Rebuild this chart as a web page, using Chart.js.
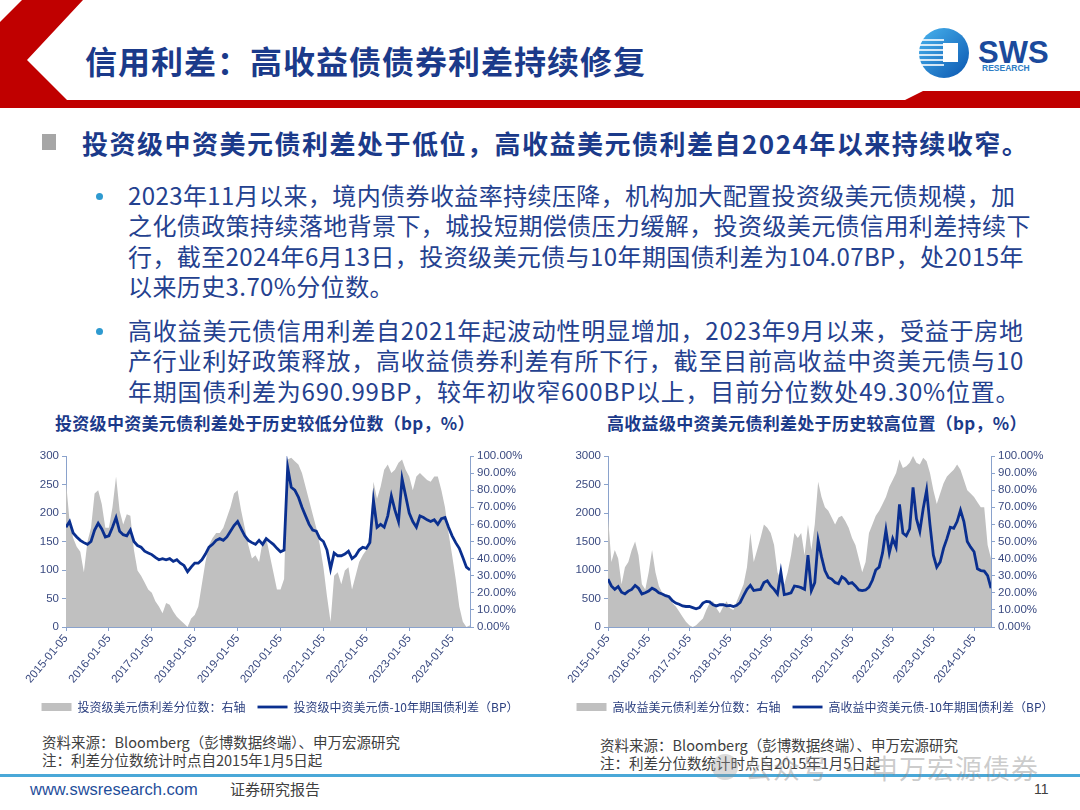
<!DOCTYPE html>
<html>
<head>
<meta charset="utf-8">
<script src="https://cdn.jsdelivr.net/npm/chart.js@4.4.1/dist/chart.umd.min.js"></script>
<style>
  html, body { margin: 0; padding: 0; background: #fff; }
  #page { position: relative; width: 1080px; height: 810px; overflow: hidden; background: #fff;
          font-family: "Noto Sans CJK SC", "Noto Sans", sans-serif; }
  .abs { position: absolute; white-space: nowrap; }
  .title { left: 85px; top: 38px; font-size: 32px; font-weight: 700; color: #1B3A8A; letter-spacing: 1px; line-height: 44px; }
  .lead { left: 82px; top: 126px; font-size: 26px; font-weight: 700; color: #1B3A8A; letter-spacing: 1.5px; line-height: 34px; }
  .lead-mark { left: 42px; top: 134px; width: 14px; height: 16px; background: #A6A6A6; }
  .para { left: 128px; font-size: 24px; color: #24418F; line-height: 30.3px; letter-spacing: 0.4px; }
  .dot { left: 96px; width: 7px; height: 7px; border-radius: 4px; background: #2E9AD0; }
  .ctitle { top: 410px; font-size: 17px; font-weight: 700; color: #1B3A8A; line-height: 26px; letter-spacing: 0.3px; }
  .src { font-size: 14.5px; color: #404040; line-height: 18px; }
  .chartbox { position: absolute; top: 446px; height: 277px; }
</style>
</head>
<body>
<div id="page">
  <svg class="abs" style="left:0;top:0" width="1080" height="112">
    <polygon points="22,0 83,0 27,60 67,100 905,100 923,91 1080,91 1080,108 0,108 0,22" fill="#C00000"/>
    <defs>
      <linearGradient id="lg" x1="0" y1="0" x2="1" y2="1">
        <stop offset="0" stop-color="#49B4EE"/>
        <stop offset="1" stop-color="#0A56B0"/>
      </linearGradient>
    </defs>
    <circle cx="944" cy="53" r="25" fill="url(#lg)"/>
    <g stroke="#fff" stroke-width="1.6">
      <line x1="922" y1="40" x2="944" y2="40"/>
      <line x1="920" y1="45" x2="944" y2="45"/>
      <line x1="919" y1="50" x2="944" y2="50"/>
      <line x1="919" y1="55" x2="944" y2="55"/>
      <line x1="920" y1="60" x2="944" y2="60"/>
      <line x1="922" y1="65" x2="944" y2="65"/>
    </g>
    <rect x="943" y="43" width="15" height="19" fill="#fff"/>
    <text x="978" y="63" font-family="Liberation Sans, sans-serif" font-weight="700" font-size="31" fill="#1B4A9C">SWS</text>
    <text x="982" y="71" font-family="Liberation Sans, sans-serif" font-weight="700" font-size="8.5" fill="#2D7CC4">RESEARCH</text>
  </svg>

  <div class="abs title">信用利差：高收益债债券利差持续修复</div>

  <div class="abs lead-mark"></div>
  <div class="abs lead">投资级中资美元债利差处于低位，高收益美元债利差自2024年以来持续收窄。</div>

  <div class="abs dot" style="top:193px"></div>
  <div class="abs para" style="top:180px">
    <div>2023年11月以来，境内债券收益率持续压降，机构加大配置投资级美元债规模，加</div>
    <div>之化债政策持续落地背景下，城投短期偿债压力缓解，投资级美元债信用利差持续下</div>
    <div>行，截至2024年6月13日，投资级美元债与10年期国债利差为104.07BP，处2015年</div>
    <div>以来历史3.70%分位数。</div>
  </div>

  <div class="abs dot" style="top:328px"></div>
  <div class="abs para" style="top:315px;letter-spacing:0.8px">
    <div>高收益美元债信用利差自2021年起波动性明显增加，2023年9月以来，受益于房地</div>
    <div>产行业利好政策释放，高收益债券利差有所下行，截至目前高收益中资美元债与10</div>
    <div>年期国债利差为690.99BP，较年初收窄600BP以上，目前分位数处49.30%位置。</div>
  </div>

  <div class="abs ctitle" style="left:55px">投资级中资美元债利差处于历史较低分位数（bp，%）</div>
  <div class="abs ctitle" style="left:607px">高收益级中资美元债利差处于历史较高位置（bp，%）</div>

  <div class="chartbox" style="left:20px;width:520px"><canvas id="chartIG"></canvas></div>
  <div class="chartbox" style="left:560px;width:510px"><canvas id="chartHY"></canvas></div>

  <div class="abs src" style="left:42px;top:733px">资料来源：Bloomberg（彭博数据终端）、申万宏源研究<br>注：利差分位数统计时点自2015年1月5日起</div>
  <div class="abs src" style="left:600px;top:736px">资料来源：Bloomberg（彭博数据终端）、申万宏源研究<br>注：利差分位数统计时点自2015年1月5日起</div>

  <div class="abs" style="left:0;top:774px;width:1080px;height:3px;background:#4AA8D8"></div>
  <div class="abs" style="left:30px;top:778px;font-family:'Liberation Sans',sans-serif;font-size:16.5px;color:#1F4E9A;line-height:22px">www.swsresearch.com</div>
  <div class="abs" style="left:230px;top:778px;font-size:15px;color:#404040;line-height:22px">证券研究报告</div>
  <div class="abs" style="left:1034px;top:779px;font-family:'Liberation Sans',sans-serif;font-size:14px;color:#404040;line-height:20px">11</div>

  <div class="abs" style="left:712px;top:754px;width:26px;height:26px;border-radius:13px;background:rgba(150,150,150,0.35)"></div>
  <div class="abs" style="left:745px;top:750px;font-size:27px;color:rgba(140,140,140,0.45);line-height:36px;letter-spacing:1px">公众号 · 申万宏源债券</div>
</div>

<script>
// x = month index from 2015-01 (monthly readings), last point 2024-06-13
const yearTicks = ['2015-01-05', '2016-01-05', '2017-01-05', '2018-01-05', '2019-01-05',
                   '2020-01-05', '2021-01-05', '2022-01-05', '2023-01-05', '2024-01-05'];

// 投资级中资美元债-10年期国债利差（BP）
const igSpread = [
  175, 185, 165, 158, 152, 148, 145, 150, 170, 182, 172, 158,
  160, 175, 192, 168, 162, 160, 170, 150, 143, 140, 133, 130,
  127, 122, 118, 120, 118, 120, 115, 118, 112, 108, 97, 105,
  112, 112, 118, 128, 140, 145, 152, 155, 152, 158, 168, 178,
  185, 172, 160, 152, 148, 145, 152, 145, 155, 150, 145, 138,
  132, 135, 280, 245, 240, 228, 210, 195, 180, 170, 168, 155,
  150, 135, 102, 130, 125, 125, 128, 133, 120, 125, 135, 140,
  138, 148, 222, 175, 180, 175, 195, 230, 205, 185, 260, 230,
  200, 185, 175, 195, 192, 188, 185, 188, 180, 190, 192, 175,
  160, 148, 138, 122, 105, 100
];
// 投资级美元债利差分位数（%，右轴）
const igPct = [
  85, 62, 52, 47, 44, 32, 50, 58, 78, 80, 72, 58,
  58, 70, 88, 68, 60, 66, 65, 45, 33, 30, 26, 22,
  20, 15, 12, 8, 14, 13, 9, 6, 4, 2, 0, 5,
  7, 12, 25, 38, 48, 52, 55, 55, 58, 64, 70, 78,
  80, 68, 58, 48, 40, 42, 38, 50, 52, 42, 32, 22,
  22, 28, 98, 99, 97, 95, 90, 82, 74, 66, 58, 48,
  35, 18, 3, 30, 32, 25, 33, 35, 22, 30, 38, 42,
  45, 55, 85, 75, 82, 92, 95, 90, 92, 96, 98, 92,
  88, 80, 88, 90, 88, 86, 85, 88, 88, 80, 70, 55,
  42, 28, 12, 3, 0, 1
];

// 高收益中资美元债-10年期国债利差（BP）
const hySpread = [
  840, 720, 660, 710, 610, 580, 630, 660, 730, 680, 580, 600,
  630, 680, 650, 600, 580, 550, 530, 460, 420, 400, 370, 360,
  360, 340, 320, 340, 420, 450, 440, 390, 370, 390, 390, 370,
  380, 360, 380, 430, 550, 660, 730, 640, 650, 660, 780, 810,
  720, 660, 580, 960, 570, 580, 600, 720, 710, 690, 660, 1260,
  640, 780, 1520, 1230, 990, 870, 840, 780, 760, 880, 840, 760,
  780, 720, 650, 640, 650, 700, 820, 1000, 1050, 1300, 1700, 1300,
  1550, 1400, 2150, 1650, 1600, 1720, 2450, 1900, 1680, 2080, 2400, 1790,
  1260, 1050, 1140, 1380, 1550, 1750, 1730, 1850, 2050, 1850, 1500, 1400,
  1320, 1020, 990, 980, 900, 680
];
// 高收益美元债利差分位数（%，右轴）
const hyPct = [
  65, 38, 45, 40, 25, 35, 38, 45, 50, 42, 25, 22,
  32, 45, 32, 24, 20, 18, 17, 14, 12, 9, 6, 3,
  1, 0, 1, 3, 5, 10, 14, 15, 11, 8, 12, 15,
  11, 10, 15, 20, 25, 35, 55, 38, 45, 52, 60, 58,
  55, 48, 32, 28, 25, 32, 42, 55, 52, 55, 42, 60,
  45, 60, 85, 76, 70, 68, 64, 60, 64, 65, 62, 58,
  52, 48, 40, 32, 38, 55, 60, 65, 68, 72, 76, 82,
  86, 90, 98, 93, 94, 96, 100, 96, 95, 99, 97, 90,
  80, 72, 78, 84, 88, 90, 92, 95, 92, 86, 80, 78,
  76, 73, 70, 70, 48, 40
];

const axisColor = '#8AA2CC';
const tickColor = '#3A4A80';
const lineColor = '#0A2F8F';
const areaColor = '#C0C0C0';

Chart.defaults.font.family = '"Noto Sans CJK SC", "Liberation Sans", sans-serif';

function toXY(arr) {
    return arr.map((v, i) => ({ x: i, y: v }));
}

function makeChart(id, spread, pct, leftMax, leftStep, pctLabel, lineLabel, leftWidth, rightWidth) {
    const ctx = document.getElementById(id).getContext('2d');
    return new Chart(ctx, {
        type: 'line',
        data: {
            datasets: [{
                label: pctLabel,
                data: toXY(pct),
                yAxisID: 'y1',
                backgroundColor: areaColor,
                borderColor: areaColor,
                borderWidth: 0,
                fill: 'origin',
                pointRadius: 0,
                pointStyle: 'rect',
                tension: 0,
                order: 2
            }, {
                label: lineLabel,
                data: toXY(spread),
                yAxisID: 'y',
                borderColor: lineColor,
                backgroundColor: lineColor,
                borderWidth: 2.8,
                fill: false,
                pointRadius: 0,
                pointStyle: 'line',
                tension: 0,
                order: 1
            }]
        },
        options: {
            responsive: true,
            maintainAspectRatio: false,
            animation: false,
            layout: { padding: { top: 10, left: 0, right: 0, bottom: 0 } },
            plugins: {
                tooltip: { enabled: false },
                legend: {
                    position: 'bottom',
                    labels: {
                        usePointStyle: true,
                        pointStyleWidth: 30,
                        boxHeight: 8,
                        padding: 12,
                        color: '#2B3F7F',
                        font: { size: 12 },
                        sort: (a, b) => a.datasetIndex - b.datasetIndex
                    }
                }
            },
            scales: {
                x: {
                    type: 'linear',
                    min: 0,
                    max: spread.length - 1,
                    afterBuildTicks: s => { s.ticks = yearTicks.map((_, i) => ({ value: i * 12 })); },
                    afterFit: s => { s.height = 62; },
                    ticks: {
                        autoSkip: false,
                        maxRotation: 50,
                        minRotation: 50,
                        padding: 1,
                        color: tickColor,
                        font: { family: '"Liberation Sans", sans-serif', size: 11.5 },
                        callback: (v, i) => yearTicks[i]
                    },
                    grid: { drawOnChartArea: false, color: axisColor, tickLength: 4 },
                    border: { color: axisColor }
                },
                y: {
                    position: 'left',
                    min: 0,
                    max: leftMax,
                    afterFit: s => { s.width = leftWidth; },
                    ticks: {
                        stepSize: leftStep,
                        padding: 3,
                        color: tickColor,
                        font: { family: '"Liberation Sans", sans-serif', size: 11.5 },
                        callback: v => String(v)
                    },
                    grid: { drawOnChartArea: false, color: axisColor, tickLength: 4 },
                    border: { color: axisColor }
                },
                y1: {
                    position: 'right',
                    min: 0,
                    max: 100,
                    afterFit: s => { s.width = rightWidth; },
                    ticks: {
                        stepSize: 10,
                        padding: 3,
                        color: tickColor,
                        font: { family: '"Liberation Sans", sans-serif', size: 11.5 },
                        callback: v => v.toFixed(2) + '%'
                    },
                    grid: { drawOnChartArea: false, color: axisColor, tickLength: 4 },
                    border: { color: axisColor }
                }
            }
        }
    });
}

makeChart('chartIG', igSpread, igPct, 300, 50,
    '投资级美元债利差分位数：右轴', '投资级中资美元债-10年期国债利差（BP）', 46, 70);
makeChart('chartHY', hySpread, hyPct, 3000, 500,
    '高收益美元债利差分位数：右轴', '高收益中资美元债-10年期国债利差（BP）', 48, 79);
</script>
</body>
</html>
